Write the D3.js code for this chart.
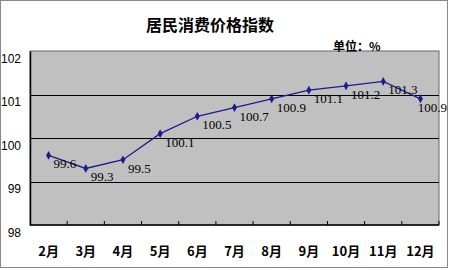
<!DOCTYPE html>
<html>
<head>
<meta charset="utf-8">
<script src="https://cdn.jsdelivr.net/npm/d3@7"></script>
<style>
  body { margin: 0; background: #fff; }
</style>
</head>
<body>
<div id="chart"></div>
<script>
var months = ['2月', '3月', '4月', '5月', '6月', '7月', '8月', '9月', '10月', '11月', '12月'],
    cpi = [99.6, 99.3, 99.5, 100.1, 100.5, 100.7, 100.9, 101.1, 101.2, 101.3, 100.9],
    yTicks = [98, 99, 100, 101, 102];

var width = 450,
    height = 270,
    plot = { left: 30, right: 439, top: 51, bottom: 225 };

var svg = d3.select('#chart').append('svg')
    .attr('width', width)
    .attr('height', height);

// outer frame
svg.append('rect')
    .attr('x', 0.5).attr('y', 0.5)
    .attr('width', width - 3).attr('height', height - 3)
    .attr('fill', '#fff')
    .attr('stroke', '#888');

var xScale = d3.scaleBand()
    .domain(months)
    .range([plot.left, plot.right]);

var yScale = d3.scaleLinear()
    .domain([98, 102])
    .range([plot.bottom, plot.top]);

svg.append('rect')
    .attr('x', plot.left).attr('y', plot.top)
    .attr('width', plot.right - plot.left)
    .attr('height', plot.bottom - plot.top)
    .attr('fill', '#c0c0c0')
    .attr('stroke', '#666');

// gridlines
svg.append('g').selectAll('line')
    .data([99, 100, 101])
    .enter().append('line')
    .attr('x1', plot.left).attr('x2', plot.right)
    .attr('y1', function(d) { return Math.round(yScale(d)) + 0.5; })
    .attr('y2', function(d) { return Math.round(yScale(d)) + 0.5; })
    .attr('stroke', '#000');

// axes
var yAxis = d3.axisLeft(yScale)
    .tickValues(yTicks)
    .tickSize(0)
    .tickFormat(d3.format('d'));

var yGuide = svg.append('g')
    .attr('transform', 'translate(' + plot.left + ',0)')
    .call(yAxis);
yGuide.select('.domain').attr('stroke', '#000').attr('stroke-width', 1.5);
yGuide.selectAll('text')
    .attr('x', -9)
    .attr('dy', '0.95em')
    .style('font-family', 'Liberation Sans, sans-serif')
    .style('font-size', '12px')
    .style('fill', '#000');

var edges = months.map(function(m) { return xScale(m); }).slice(1).concat([plot.right]);

svg.append('g').selectAll('line')
    .data(edges)
    .enter().append('line')
    .attr('x1', function(d) { return d; })
    .attr('x2', function(d) { return d; })
    .attr('y1', plot.bottom - 4)
    .attr('y2', plot.bottom)
    .attr('stroke', '#000');

svg.append('line')
    .attr('x1', plot.left).attr('x2', plot.right)
    .attr('y1', plot.bottom).attr('y2', plot.bottom)
    .attr('stroke', '#000').attr('stroke-width', 1.5);

svg.append('g').selectAll('text')
    .data(months)
    .enter().append('text')
    .attr('x', function(d) { return xScale(d) + xScale.bandwidth() / 2; })
    .attr('y', 256)
    .attr('text-anchor', 'middle')
    .style('font-family', 'Noto Sans CJK SC, sans-serif')
    .style('font-weight', 'bold')
    .style('font-size', '13px')
    .text(function(d) { return d; });

// series
var cx = function(d, i) { return xScale(months[i]) + xScale.bandwidth() / 2; };

var line = d3.line()
    .x(cx)
    .y(function(d) { return yScale(d); });

svg.append('path')
    .datum(cpi)
    .attr('d', line)
    .attr('fill', 'none')
    .attr('stroke', '#1c1c8c')
    .attr('stroke-width', 1.3);

svg.append('g').selectAll('path')
    .data(cpi)
    .enter().append('path')
    .attr('d', d3.symbol().type(d3.symbolDiamond).size(22))
    .attr('transform', function(d, i) {
        return 'translate(' + cx(d, i) + ',' + yScale(d) + ')';
    })
    .attr('fill', '#1c1c8c');

svg.append('g').selectAll('text')
    .data(cpi)
    .enter().append('text')
    .attr('x', function(d, i) { return cx(d, i) + 5; })
    .attr('y', function(d) { return yScale(d) + 13; })
    .style('font-family', 'Liberation Serif, serif')
    .style('font-size', '13px')
    .style('fill', '#000')
    .text(function(d) { return d3.format('.1f')(d); })
    .each(function(d, i) {
        // keep the label inside the frame, like the last one in the picture
        var w = this.getComputedTextLength(),
            x = Math.min(cx(d, i) + 5, width - 3 - w);
        d3.select(this).attr('x', x);
    });

// titles
svg.append('text')
    .attr('x', 210).attr('y', 31)
    .attr('text-anchor', 'middle')
    .style('font-family', 'Noto Sans CJK SC, sans-serif')
    .style('font-weight', 'bold')
    .style('font-size', '16px')
    .text('居民消费价格指数');

svg.append('text')
    .attr('x', 333).attr('y', 51)
    .style('font-family', 'Noto Sans CJK SC, sans-serif')
    .style('font-weight', 'bold')
    .style('font-size', '12px')
    .text('单位：%');
</script>
</body>
</html>
